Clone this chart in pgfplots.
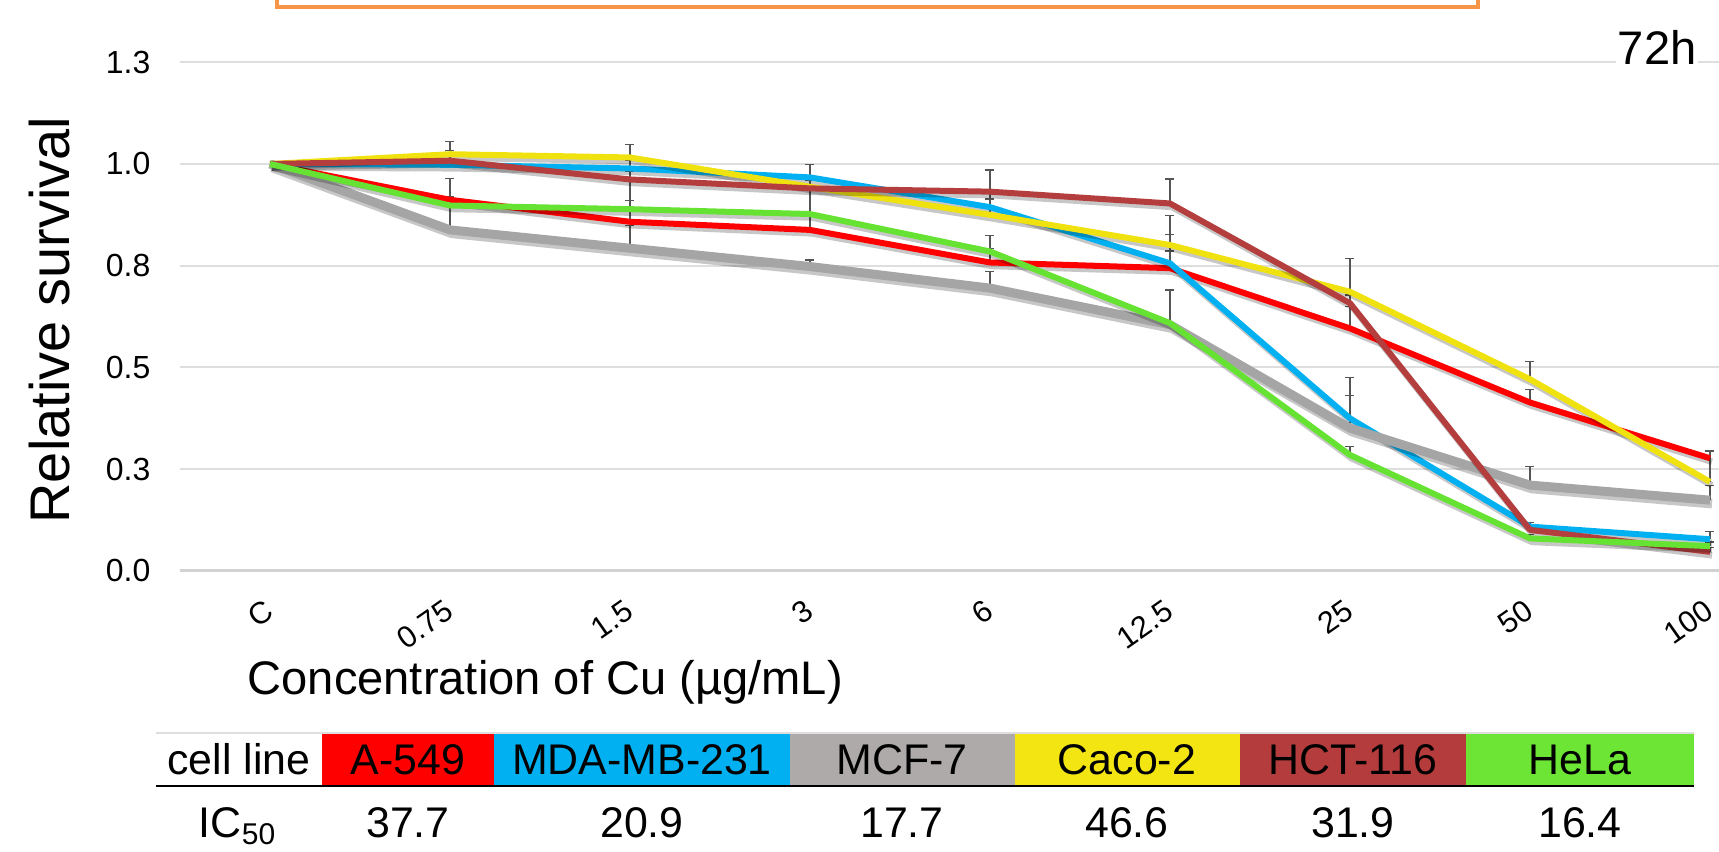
\documentclass[border=0pt]{standalone}
\usepackage{fontspec}
\setmainfont{Liberation Sans}
\usepackage{pgfplots}
\pgfplotsset{compat=1.18}
\usepackage{pgfplotstable}

\definecolor{cred}{RGB}{255,0,0}
\definecolor{cblue}{RGB}{0,176,240}
\definecolor{cgray}{RGB}{165,165,165}
\definecolor{cyel}{RGB}{240,226,15}
\definecolor{cbrn}{RGB}{180,62,62}
\definecolor{cgrn}{RGB}{102,226,51}
\definecolor{tgray}{RGB}{174,170,170}
\definecolor{tyel}{RGB}{242,229,18}
\definecolor{tbrn}{RGB}{180,60,60}
\definecolor{tgrn}{RGB}{108,229,53}
\definecolor{corange}{RGB}{247,150,70}
\definecolor{errc}{RGB}{85,85,85}
\definecolor{gridc}{RGB}{222,222,222}
\definecolor{zeroc}{RGB}{210,210,210}

\pgfplotstableread{
x red rede blue bluee gray graye yel yele brn brne grn grne
0 1.000 0     1.000 0     1.000 0     1.000 0     1.000 0     1.000 0
1 0.912 0.053 0.998 0.010 0.838 0.082 1.024 0.031 1.008 0.025 0.898 0.020
2 0.858 0.052 0.989 0.020 0.793 0.056 1.016 0.032 0.962 0.020 0.889 0.070
3 0.838 0.040 0.967 0.031 0.748 0.016 0.944 0.020 0.940 0.020 0.877 0.070
4 0.758 0.035 0.894 0.020 0.695 0.041 0.875 0.061 0.932 0.053 0.785 0.040
5 0.744 0.082 0.756 0.030 0.605 0.086 0.801 0.072 0.903 0.060 0.609 0.081
6 0.596 0.053 0.375 0.100 0.351 0.080 0.686 0.082 0.658 0.020 0.285 0.020
7 0.414 0.031 0.109 0.010 0.211 0.045 0.471 0.043 0.101 0.010 0.080 0.010
8 0.277 0.018 0.078 0.019 0.174 0.037 0.219 0.075 0.047 0.010 0.061 0.010
}\cu

\pgfplotsset{
  errplot/.style={draw=none, forget plot, skip coords between index={0}{1},
    error bars/.cd, y dir=plus, y explicit, error mark=|,
    error bar style={draw=errc, line width=0.12mm, solid},
    error mark options={draw=errc, line width=0.12mm, mark size=0.45mm}},
  shad/.style={black, opacity=0.22, line width=#1, line join=round, xshift=0.2mm, yshift=-0.35mm, forget plot},
  ser/.style={#1, line width=0.6mm, line join=round, mark=none},
}

\begin{document}
\begin{tikzpicture}
\path[use as bounding box] (0,0) rectangle (171.9mm,85.2mm);
\begin{axis}[
  at={(18mm,28.1mm)}, anchor=south west, scale only axis,
  width=153.9mm, height=50.875mm,
  xmin=-0.5, xmax=8.05, ymin=0, ymax=1.25,
  axis line style={draw=none},
  major tick length=0pt,
  ymajorgrids, grid style={gridc, line width=0.2mm},
  xtick={0,1,2,3,4,5,6,7,8},
  xticklabels={C,0.75,1.5,3,6,12.5,25,50,100},
  ytick={0,0.25,0.5,0.75,1,1.25},
  yticklabels={0.0,0.3,0.5,0.8,1.0,1.3},
  xticklabel style={font=\fontsize{8.7}{10}\selectfont, rotate=35, anchor=east, inner sep=0pt},
  xticklabel shift=3.6mm,
  yticklabel style={font=\fontsize{9.1}{11}\selectfont, anchor=east, inner sep=0pt},
  yticklabel shift=2.9mm,
  clip=false,
]
\draw[zeroc, line width=0.3mm] (axis cs:-0.5,0) -- (axis cs:8.05,0);
% error bars (behind lines)
\addplot[errplot] table[x=x, y=red, y error=rede]{\cu};
\addplot[errplot] table[x=x, y=blue, y error=bluee]{\cu};
\addplot[errplot] table[x=x, y=gray, y error=graye]{\cu};
\addplot[errplot] table[x=x, y=yel, y error=yele]{\cu};
\addplot[errplot] table[x=x, y=brn, y error=brne]{\cu};
\addplot[errplot] table[x=x, y=grn, y error=grne]{\cu};
% A-549
\addplot[shad=0.65mm] table[x=x, y=red]{\cu};
\addplot[ser=cred] table[x=x, y=red]{\cu};
% MDA-MB-231
\addplot[shad=0.65mm] table[x=x, y=blue]{\cu};
\addplot[ser=cblue] table[x=x, y=blue]{\cu};
% MCF-7
\addplot[shad=0.95mm] table[x=x, y=gray]{\cu};
\addplot[ser=cgray, line width=0.9mm] table[x=x, y=gray]{\cu};
% Caco-2
\addplot[shad=0.65mm] table[x=x, y=yel]{\cu};
\addplot[ser=cyel] table[x=x, y=yel]{\cu};
% HCT-116
\addplot[shad=0.65mm] table[x=x, y=brn]{\cu};
\addplot[ser=cbrn] table[x=x, y=brn]{\cu};
% HeLa
\addplot[shad=0.65mm] table[x=x, y=grn]{\cu};
\addplot[ser=cgrn] table[x=x, y=grn]{\cu};
\end{axis}

\begin{scope}[x=0.1mm, y=0.1mm]
% orange box (cut at top)
\draw[corange, line width=0.4mm] (277,870) -- (277,845) -- (1478,845) -- (1478,870);
% labels
\node[anchor=base east, fill=white, inner sep=0.5pt, font=\fontsize{13.4}{15}\selectfont] at (1699,787) {72h};
\node[anchor=base west, inner sep=0pt, font=\fontsize{13.4}{15}\selectfont] at (247,157) {Concentration of Cu (µg/mL)};
\node[rotate=90, anchor=base, inner sep=0pt, font=\fontsize{15.9}{18}\selectfont] at (69,532) {Relative survival};
% table
\fill[cred]  (322,66) rectangle (494,119);
\fill[cblue] (494,66) rectangle (790,119);
\fill[tgray] (790,66) rectangle (1015,119);
\fill[tyel]  (1015,66) rectangle (1240,119);
\fill[tbrn]  (1240,66) rectangle (1466,119);
\fill[tgrn]  (1466,66) rectangle (1694,119);
\draw[gridc, line width=0.15mm] (156,119) -- (1694,119);
\draw[black, line width=0.2mm] (156,66) -- (1694,66);
\begin{scope}[every node/.style={anchor=base, inner sep=0pt, font=\fontsize{12.2}{14}\selectfont}]
\node at (239,77) {cell line};
\node at (408,77) {A-549};
\node at (642,77) {MDA-MB-231};
\node at (902,77) {MCF-7};
\node at (1127,77) {Caco-2};
\node at (1353,77) {HCT-116};
\node at (1580,77) {HeLa};
\node at (238,14) {IC\textsubscript{50}};
\node at (408,14) {37.7};
\node at (642,14) {20.9};
\node at (902,14) {17.7};
\node at (1127,14) {46.6};
\node at (1353,14) {31.9};
\node at (1580,14) {16.4};
\end{scope}
\end{scope}
\end{tikzpicture}
\end{document}
